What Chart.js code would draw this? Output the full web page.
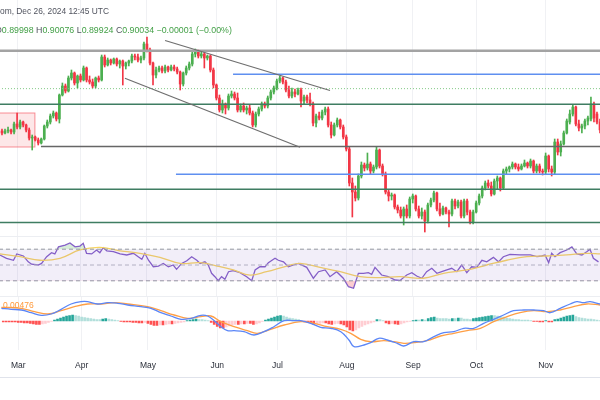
<!DOCTYPE html>
<html>
<head>
<meta charset="utf-8">
<script src="https://cdn.jsdelivr.net/npm/chart.js@4.4.1/dist/chart.umd.min.js"></script>
<style>
  body { margin: 0; background: #fff; width: 600px; height: 400px; overflow: hidden; position: relative; font-family: "Liberation Sans", Arial, sans-serif; }
  canvas { position: absolute; left: 0; }
  #price { top: 0; }
  #rsi { top: 236px; }
  #macd { top: 296px; }
  .hdr { position: absolute; white-space: nowrap; z-index: 5; font-size: 9px; }
  #hdr1 { left: 0; top: 6px; color: #50535e; font-size: 8.4px; }
  #hdr2 { left: -5px; top: 25px; color: #50535e; font-size: 8.8px; }
  #hdr2 .v { color: #43a047; }
  #macdLbl { position: absolute; left: 3px; top: 300px; font-size: 8.5px; color: #ff9a3c; z-index: 5; }
  .sep { position: absolute; left: 0; width: 600px; height: 1px; background: #eceef2; z-index: 4; }
</style>
</head>
<body>
<div id="hdr1" class="hdr">om, Dec 26, 2024 12:45 UTC</div>
<div id="hdr2" class="hdr">O<span class="v">0.89998</span> H<span class="v">0.90076</span> L<span class="v">0.89924</span> C<span class="v">0.90034</span> <span class="v">−0.00001 (−0.00%)</span></div>
<canvas id="price" width="600" height="236"></canvas>
<canvas id="rsi" width="600" height="60"></canvas>
<canvas id="macd" width="600" height="82"></canvas>
<div id="macdLbl">0.00476</div>
<div class="sep" style="top:236px"></div>
<div class="sep" style="top:296px"></div>
<div class="sep" style="top:377px; background:#e0e3eb"></div>
<script>
// daily bars, index 0 = Feb 23 2024 ... 198 = Nov 27 2024
const monthIdx = [5, 26, 48, 71, 91, 114, 136, 157, 180];
const monthNames = ['Mar', 'Apr', 'May', 'Jun', 'Jul', 'Aug', 'Sep', 'Oct', 'Nov'];

const opens = [
  .8834,.8826,.8834,.8838,.8830,.8862,.8850,.8870,.8858,.8838,
  .8806,.8810,.8798,.8786,.8802,.8854,.8870,.8894,.8906,.8882,
  .8978,.9014,.8994,.9046,.9066,.9026,.9054,.9038,.9086,.9038,
  .9030,.9014,.9046,.9038,.9130,.9098,.9118,.9106,.9122,.9102,
  .9114,.9094,.9106,.9114,.9134,.9130,.9118,.9126,.9182,.9158,
  .9106,.9058,.9078,.9086,.9074,.9090,.9078,.9090,.9082,.9070,
  .9022,.9066,.9086,.9102,.9142,.9150,.9134,.9142,.9126,.9134,
  .9078,.9018,.8966,.8918,.8942,.8926,.8974,.8982,.8966,.8918,
  .8934,.8918,.8926,.8906,.8858,.8902,.8922,.8942,.8934,.8966,
  .8990,.9006,.9034,.9046,.9030,.8998,.8974,.8990,.8982,.8998,
  .8954,.8970,.8958,.8942,.8866,.8894,.8886,.8910,.8922,.8858,
  .8818,.8858,.8878,.8850,.8810,.8762,.8626,.8590,.8566,.8654,
  .8698,.8686,.8702,.8674,.8690,.8758,.8694,.8662,.8590,.8574,
  .8578,.8530,.8518,.8494,.8522,.8494,.8562,.8574,.8522,.8494,
  .8510,.8474,.8538,.8558,.8586,.8522,.8502,.8526,.8510,.8502,
  .8554,.8534,.8550,.8494,.8554,.8510,.8470,.8510,.8546,.8574,
  .8606,.8626,.8614,.8582,.8634,.8646,.8606,.8674,.8682,.8690,
  .8702,.8690,.8682,.8694,.8706,.8694,.8714,.8674,.8694,.8674,
  .8670,.8734,.8682,.8670,.8790,.8750,.8782,.8826,.8870,.8902,
  .8930,.8862,.8846,.8854,.8874,.8882,.8942,.8902,.8870
];
const highs = [
  .8842,.8842,.8850,.8842,.8870,.8906,.8878,.8874,.8862,.8846,
  .8818,.8814,.8806,.8806,.8858,.8878,.8902,.8914,.8910,.8982,
  .9026,.9022,.9054,.9078,.9070,.9058,.9062,.9094,.9090,.9054,
  .9042,.9050,.9054,.9138,.9138,.9126,.9122,.9126,.9126,.9118,
  .9118,.9110,.9118,.9142,.9142,.9142,.9134,.9190,.9210,.9166,
  .9110,.9090,.9094,.9094,.9098,.9094,.9098,.9098,.9090,.9074,
  .9070,.9094,.9110,.9150,.9162,.9158,.9154,.9150,.9138,.9138,
  .9086,.9022,.8978,.8958,.8946,.8982,.8994,.8990,.8986,.8942,
  .8946,.8934,.8938,.8914,.8910,.8930,.8950,.8950,.8974,.8998,
  .9014,.9042,.9054,.9050,.9038,.9014,.9006,.9002,.9006,.9006,
  .8978,.8978,.8986,.8950,.8902,.8910,.8918,.8930,.8930,.8870,
  .8866,.8886,.8882,.8858,.8818,.8770,.8646,.8614,.8662,.8710,
  .8706,.8746,.8710,.8698,.8770,.8762,.8702,.8670,.8598,.8586,
  .8582,.8538,.8530,.8530,.8538,.8570,.8582,.8578,.8534,.8526,
  .8518,.8546,.8566,.8594,.8590,.8546,.8534,.8530,.8518,.8562,
  .8562,.8558,.8558,.8562,.8562,.8518,.8518,.8554,.8582,.8614,
  .8634,.8638,.8630,.8642,.8654,.8650,.8682,.8690,.8694,.8710,
  .8706,.8702,.8702,.8718,.8710,.8722,.8718,.8702,.8702,.8682,
  .8746,.8738,.8694,.8802,.8802,.8794,.8834,.8882,.8918,.8938,
  .8934,.8878,.8862,.8882,.8894,.8970,.8950,.8910,.8882
];
const lows = [
  .8818,.8822,.8826,.8822,.8822,.8842,.8842,.8850,.8830,.8798,
  .8758,.8794,.8778,.8782,.8798,.8846,.8862,.8886,.8874,.8866,
  .8974,.8986,.8990,.9038,.9018,.9006,.9030,.9034,.9030,.9022,
  .9006,.9006,.9030,.9034,.9090,.9094,.9098,.9102,.9094,.9086,
  .9018,.9082,.9094,.9106,.9118,.9110,.9106,.9118,.9150,.9098,
  .9018,.9046,.9070,.9066,.9066,.9070,.9074,.9074,.9062,.8998,
  .9014,.9058,.9078,.9094,.9130,.9126,.9126,.9086,.9118,.9070,
  .9006,.8958,.8910,.8906,.8902,.8918,.8966,.8958,.8910,.8910,
  .8910,.8902,.8898,.8850,.8850,.8894,.8914,.8926,.8926,.8958,
  .8982,.8998,.9026,.9022,.8990,.8966,.8966,.8970,.8978,.8930,
  .8942,.8946,.8934,.8854,.8850,.8878,.8878,.8898,.8850,.8806,
  .8814,.8850,.8842,.8802,.8754,.8614,.8490,.8554,.8558,.8646,
  .8674,.8678,.8662,.8666,.8682,.8686,.8654,.8582,.8554,.8558,
  .8522,.8506,.8486,.8458,.8486,.8486,.8546,.8514,.8486,.8482,
  .8430,.8466,.8530,.8550,.8514,.8494,.8498,.8502,.8450,.8494,
  .8522,.8526,.8486,.8486,.8498,.8462,.8462,.8506,.8538,.8566,
  .8598,.8606,.8574,.8578,.8602,.8594,.8602,.8662,.8670,.8682,
  .8682,.8674,.8678,.8690,.8686,.8686,.8666,.8666,.8666,.8658,
  .8662,.8670,.8654,.8662,.8738,.8734,.8778,.8822,.8862,.8894,
  .8854,.8834,.8826,.8842,.8858,.8874,.8870,.8862,.8826
];
const closes = [
  .8826,.8834,.8838,.8830,.8862,.8850,.8870,.8858,.8838,.8806,
  .8810,.8798,.8786,.8802,.8854,.8870,.8894,.8906,.8882,.8978,
  .9014,.8994,.9046,.9066,.9026,.9054,.9038,.9086,.9038,.9030,
  .9014,.9046,.9038,.9130,.9098,.9118,.9106,.9122,.9102,.9114,
  .9094,.9106,.9114,.9134,.9130,.9118,.9126,.9182,.9158,.9106,
  .9058,.9078,.9086,.9074,.9090,.9078,.9090,.9082,.9070,.9022,
  .9066,.9086,.9102,.9142,.9150,.9134,.9142,.9126,.9134,.9078,
  .9018,.8966,.8918,.8942,.8926,.8974,.8982,.8966,.8918,.8934,
  .8918,.8926,.8906,.8858,.8902,.8922,.8942,.8934,.8966,.8990,
  .9006,.9034,.9046,.9030,.8998,.8974,.8990,.8982,.8998,.8954,
  .8970,.8958,.8942,.8866,.8894,.8886,.8910,.8922,.8858,.8818,
  .8858,.8878,.8850,.8810,.8762,.8626,.8590,.8566,.8654,.8698,
  .8686,.8702,.8674,.8690,.8758,.8694,.8662,.8590,.8574,.8578,
  .8530,.8518,.8494,.8522,.8494,.8562,.8574,.8522,.8494,.8510,
  .8474,.8538,.8558,.8586,.8522,.8502,.8526,.8510,.8502,.8554,
  .8534,.8550,.8494,.8554,.8510,.8470,.8510,.8546,.8574,.8606,
  .8626,.8614,.8582,.8634,.8646,.8606,.8674,.8682,.8690,.8702,
  .8690,.8682,.8694,.8706,.8694,.8714,.8674,.8694,.8674,.8670,
  .8734,.8682,.8670,.8790,.8750,.8782,.8826,.8874,.8902,.8930,
  .8862,.8846,.8854,.8874,.8886,.8942,.8886,.8870,.8838
];

// drawings on the price pane
const levelPrices = [0.9155, 0.9061, 0.8941, 0.8772, 0.8661, 0.8601, 0.8468];
const levelFrom = [-1, 76.5, -1, 12.9, 57.6, -1, -1];
const lastClose = 0.90034;
const channelUpper = [[54.0, 0.9196], [108.6, 0.8996]];
const channelLower = [[40.7, 0.9045], [98.7, 0.8769]];
const boxX = [-2, 10.9];
const boxY = [0.8770, 0.8906];

// RSI 14 and its moving average
const rsiX = [-0.7,1.5,3.8,4.9,7.1,8.7,9.8,12.0,13.1,14.8,
  16.4,17.5,18.7,20.9,22.5,24.2,25.8,26.9,28.0,29.7,
  31.3,32.4,33.5,34.7,36.9,39.1,41.3,43.5,45.1,46.3,
  47.3,48.5,50.1,51.8,53.4,55.1,56.7,57.8,59.5,61.2,
  62.8,64.5,65.6,67.2,68.3,69.4,70.5,71.6,72.7,73.8,
  75.0,76.6,78.8,81.0,82.7,83.8,85.4,87.1,88.2,90.4,
  91.5,93.2,94.8,96.5,98.1,100.9,103.1,104.8,107.0,108.6,
  110.8,113.0,114.7,116.4,118.0,119.7,121.3,122.4,123.5,125.7,
  127.9,130.2,131.8,134.0,135.7,137.3,139.0,140.6,142.3,144.0,
  145.6,147.3,148.9,150.6,152.2,153.9,155.5,157.2,158.9,160.5,
  162.7,164.4,166.0,168.2,171.5,174.9,177.1,178.7,179.8,181.0,
  182.0,183.1,184.8,187.0,188.7,190.3,192.0,193.6,194.7,195.8,197.5];
const rsiVals = [62.7,58.5,56,64,61.4,54,51,50,52,60.5,
  65.6,64,73,75.3,78,73,74,77.5,64.8,64,
  69,65.6,72,68,66.8,64,62.7,64.8,60.5,57.2,
  64.8,56,47.8,48.7,52,47.8,50,44.5,52,55.4,
  60.5,56,52,54,50,39.5,35.2,30.1,35.2,32,
  41.5,42.8,40.3,35.2,30.1,43.7,47.8,47.8,53,58.5,
  56,54,47.8,50,52,47,33.2,41.5,43.7,35.2,
  41.5,33.2,22.5,20.5,39.5,39.5,40.3,38.2,47,37.3,
  35.2,31,30.5,37.3,40.3,36.1,33.2,41.5,45.8,39.5,
  41.5,43.7,45.8,41.5,50,40.3,47.8,47,56,54,
  59.7,54,60.5,63.5,62.7,62.7,60.5,61.4,62.7,53,
  64.8,60.5,65.6,69,73,64,62.7,66.8,70,58.5,54];
const rsiMaX = [-0.7,6.0,12.6,19.2,25.8,32.4,39.1,45.7,52.3,59.0,65.6,72.2,76.6,82.1,87.6,94.3,
  98.7,105.3,112.0,118.6,125.2,131.8,139.5,146.2,153.9,160.5,167.1,173.8,180.4,187.0,193.6,198.0];
const rsiMaVals = [64,60.5,56,58.5,69,72.4,68,64.8,59.7,52,53,47.8,43.7,37.3,41.5,48.7,
  52,47,41.5,35.2,34,35.2,33.2,39.5,43.7,50,56,60.5,61.4,62.7,64.8,64];

// MACD 12 26 9
const macdX = [-0.7,2.6,6.0,9.3,12.6,15.9,19.2,22.5,25.8,28.0,31.3,34.7,38.0,41.3,45.7,
  49.0,52.3,55.6,59.0,62.3,65.6,67.8,70.0,72.2,74.4,76.6,79.9,83.2,86.5,89.8,
  93.2,96.5,98.7,102.0,105.3,108.6,112.0,114.7,116.4,119.7,121.9,124.6,127.4,130.7,132.9,
  136.2,139.5,142.9,146.2,149.5,152.8,156.1,159.4,162.7,166.0,169.3,172.7,176.0,179.3,181.5,
  184.8,188.1,190.3,192.5,194.7,198.0];
const macdVals = [0.00381,0.00351,0.0033,0.00249,0.00171,0.0021,0.00351,0.0051,0.00579,0.00579,
  0.0051,0.00549,0.00531,0.0048,0.00429,0.00381,0.00249,0.0015,0.00051,0.00081,
  0.00171,0.0015,0.00009,-0.00171,-0.00291,-0.00291,-0.00321,-0.0042,-0.00321,-0.00171,
  0.00009,0.00009,0.00009,-0.00069,-0.00189,-0.00219,-0.00321,-0.0057,-0.00771,-0.0072,
  -0.00651,-0.00519,-0.0057,-0.00669,-0.0075,-0.00621,-0.00621,-0.00471,-0.00351,-0.00321,
  -0.00219,-0.00219,-0.00069,0.00051,0.0018,0.00309,0.0033,0.0033,0.00309,0.00249,
  0.00381,0.0051,0.00579,0.00549,0.00579,0.0051];
const signalX = [-0.7,6.0,10.4,14.8,19.2,23.6,28.0,32.4,36.9,41.3,47.9,52.3,56.7,61.2,65.6,
  68.9,72.2,76.6,81.0,84.3,88.7,93.2,98.7,103.1,107.5,112.0,115.3,118.6,121.9,126.3,
  129.6,132.9,136.2,140.6,145.1,149.5,153.9,158.3,162.7,167.1,171.5,176.0,180.4,184.8,189.2,193.6,198.0];
const signalVals = [0.00411,0.00381,0.00279,0.0021,0.00309,0.00429,0.0051,0.0051,0.00549,0.0051,
  0.00429,0.00309,0.0018,0.00081,0.00129,0.0015,-0.00021,-0.00171,-0.00291,-0.00369,
  -0.00249,-0.0012,-0.00021,-0.00069,-0.00171,-0.00249,-0.00369,-0.00549,-0.00621,-0.00591,
  -0.00621,-0.00669,-0.00651,-0.00591,-0.0045,-0.00369,-0.00291,-0.00219,-0.00021,0.00129,
  0.00249,0.00309,0.00279,0.0033,0.00429,0.0051,0.0048];
const macdHist = [
  -0.0003,-0.0003,-0.0003,-0.0003,-0.0003,-0.00045,-0.00045,-0.0006,-0.0006,-0.00075,
  -0.0009,-0.00105,-0.00105,-0.0009,-0.00075,-0.00045,-0.00015,0.0003,0.0006,0.0009,
  0.0012,0.0015,0.00165,0.0018,0.00165,0.0015,0.0012,0.00105,0.0009,0.00075,
  0.0006,0.00045,0.00045,0.0006,0.00075,0.0006,0.00045,0.0003,0.00015,-0.00015,
  -0.0003,-0.0003,-0.0003,-0.00045,-0.00045,-0.0006,-0.0006,-0.00045,-0.00075,-0.00105,
  -0.00135,-0.00135,-0.0012,-0.0012,-0.00105,-0.0009,-0.0009,-0.00075,-0.0006,-0.00045,
  -0.0003,0.00015,0.0003,0.00045,0.0006,0.00045,0.00045,0.0003,0.00015,-0.00045,
  -0.00105,-0.00165,-0.0021,-0.0021,-0.0018,-0.0015,-0.0012,-0.00105,-0.00105,-0.0009,
  -0.0009,-0.00075,-0.00075,-0.00105,-0.0009,-0.0006,-0.00015,0.0003,0.0006,0.0009,
  0.0012,0.0015,0.00165,0.0015,0.0012,0.0009,0.00075,0.0006,0.00045,-0.00015,
  -0.0003,-0.00045,-0.0006,-0.00105,-0.0009,-0.00075,-0.0006,-0.0006,-0.0009,-0.00105,
  -0.0009,-0.00075,-0.0009,-0.0012,-0.0018,-0.0027,-0.003,-0.0027,-0.0021,-0.00165,
  -0.0012,-0.0009,-0.0006,-0.0003,0.00045,0.00045,0.00015,-0.0006,-0.0009,-0.00075,
  -0.0009,-0.00105,-0.0009,-0.0006,-0.0003,-0.00015,0.00015,0.0003,0.0003,0.00045,
  0.0003,0.00075,0.00105,0.0012,0.0009,0.00075,0.00075,0.00075,0.0006,0.00075,
  0.00075,0.0009,0.0009,0.0006,0.0006,0.00045,0.00075,0.0009,0.00105,0.0012,
  0.00135,0.0015,0.00165,0.00165,0.0015,0.00135,0.0012,0.0009,0.00075,0.0006,
  0.00045,0.00045,0.0003,0.0003,0.0003,0.00015,-0.00015,-0.00015,-0.0003,-0.0003,
  0.00015,-0.0003,-0.0003,0.00045,0.0006,0.0009,0.0012,0.0015,0.00165,0.0018,
  0.00135,0.00105,0.0009,0.00075,0.0006,0.0006,0.00045,0.0003,0.00015
];

const UP = '#4caf50', DOWN = '#f23645';
const barIdx = opens.map((_, i) => i);
const pts = (xs, ys) => xs.map((x, k) => ({ x: x, y: ys[k] }));
const seg = (a, b) => [{ x: a[0], y: a[1] }, { x: b[0], y: b[1] }];

Chart.defaults.font.family = '"Liberation Sans", Arial, sans-serif';
Chart.defaults.animation = false;
Chart.defaults.events = [];
Chart.defaults.plugins.legend.display = false;
Chart.defaults.plugins.tooltip.enabled = false;

function xAxis(showLabels) {
  const s = {
    type: 'linear', min: -0.66, max: 198.0, offset: false,
    afterBuildTicks: (axis) => { axis.ticks = monthIdx.map(v => ({ value: v })); },
    ticks: { display: showLabels, autoSkip: false, maxRotation: 0, color: '#2a2e39', font: { size: 8.5 }, padding: 11,
             callback: (v, i) => monthNames[i] },
    grid: { color: '#f0f1f4', drawTicks: false, offset: false },
    border: { display: false }
  };
  if (showLabels) s.afterFit = (scale) => { scale.height = 28; };
  return s;
}
function yAxis(min, max) {
  return { min: min, max: max, display: true, ticks: { display: false },
           grid: { display: false }, border: { display: false },
           afterFit: (scale) => { scale.width = 0; } };
}

// price pane
const levelLook = [
  { c: '#a3a3a3', w: 2.5 }, { c: '#5f8ff0', w: 1.3 }, { c: '#3f7d62', w: 1.4 }, { c: '#666666', w: 1.4 },
  { c: '#5f8ff0', w: 1.3 }, { c: '#3f7d62', w: 1.4 }, { c: '#3f7d62', w: 1.4 }
];
const priceSets = [];
levelPrices.forEach((p, k) => {
  priceSets.push({ type: 'line', data: seg([levelFrom[k], p], [200, p]), borderColor: levelLook[k].c,
                   borderWidth: levelLook[k].w, pointRadius: 0, order: 1 });
});
priceSets.push({ type: 'line', data: seg([-1, lastClose], [200, lastClose]), borderColor: '#7fc783',
                 borderWidth: 1, borderDash: [1, 2], pointRadius: 0, order: 1 });
priceSets.push({ type: 'line', data: seg(channelUpper[0], channelUpper[1]), borderColor: '#6f6f6f', borderWidth: 1.3, pointRadius: 0, order: 0 });
priceSets.push({ type: 'line', data: seg(channelLower[0], channelLower[1]), borderColor: '#6f6f6f', borderWidth: 1.3, pointRadius: 0, order: 0 });
const candleColor = (ctx) => closes[ctx.dataIndex] >= opens[ctx.dataIndex] ? UP : DOWN;
priceSets.push({ type: 'bar', data: barIdx.map(i => ({ x: i, y: [lows[i], highs[i]] })), backgroundColor: candleColor,
                 barThickness: 1, grouped: false, order: 3 });
priceSets.push({ type: 'bar', data: barIdx.map(i => ({ x: i, y: [opens[i], closes[i]] })), backgroundColor: candleColor,
                 barThickness: 2, grouped: false, order: 2 });

const boxPlugin = {
  id: 'box',
  beforeDatasetsDraw(chart) {
    const { ctx, scales: { x, y } } = chart;
    const x0 = x.getPixelForValue(boxX[0]), x1 = x.getPixelForValue(boxX[1]);
    const y0 = y.getPixelForValue(boxY[1]), y1 = y.getPixelForValue(boxY[0]);
    ctx.save();
    ctx.fillStyle = 'rgba(242,54,69,0.12)';
    ctx.fillRect(x0, y0, x1 - x0, y1 - y0);
    ctx.strokeStyle = 'rgba(242,54,69,0.55)';
    ctx.lineWidth = 1;
    ctx.strokeRect(x0, y0, x1 - x0, y1 - y0);
    ctx.restore();
  }
};

new Chart(document.getElementById('price'), {
  type: 'bar',
  data: { datasets: priceSets },
  options: {
    responsive: false, layout: { padding: 0 },
    scales: { x: xAxis(false), y: yAxis(0.8414, 0.9358) }
  },
  plugins: [boxPlugin]
});

// RSI pane
new Chart(document.getElementById('rsi'), {
  type: 'line',
  data: { datasets: [
    { data: seg([-1, 70], [200, 70]), borderColor: '#9598a1', borderWidth: 1, borderDash: [4, 3], pointRadius: 0,
      fill: 1, backgroundColor: 'rgba(126,87,194,0.10)' },
    { data: seg([-1, 30], [200, 30]), borderColor: '#9598a1', borderWidth: 1, borderDash: [4, 3], pointRadius: 0 },
    { data: seg([-1, 50], [200, 50]), borderColor: '#b8bac2', borderWidth: 1, borderDash: [4, 3], pointRadius: 0 },
    { data: pts(rsiMaX, rsiMaVals), borderColor: '#f6d462', borderWidth: 1.3, pointRadius: 0, tension: 0.4 },
    { data: pts(rsiX, rsiVals), borderColor: '#8560c8', borderWidth: 1.3, pointRadius: 0, tension: 0,
      fill: { target: { value: 70 }, above: 'rgba(76,175,80,0.22)', below: 'rgba(0,0,0,0)' } },
    { data: pts(rsiX, rsiVals), borderColor: 'rgba(0,0,0,0)', borderWidth: 0, pointRadius: 0, tension: 0,
      fill: { target: { value: 30 }, above: 'rgba(0,0,0,0)', below: 'rgba(242,54,69,0.25)' } }
  ] },
  options: {
    responsive: false, layout: { padding: 0 },
    scales: { x: xAxis(false), y: yAxis(10.76, 86.71) }
  }
});

// MACD pane
const histColor = (ctx) => {
  const i = ctx.dataIndex, v = macdHist[i], prev = i > 0 ? macdHist[i - 1] : v;
  if (v >= 0) return prev < v ? '#26a69a' : '#b2dfdb';
  return prev < v ? '#ffcdd2' : '#ff5252';
};
new Chart(document.getElementById('macd'), {
  type: 'bar',
  data: { datasets: [
    { type: 'line', data: pts(macdX, macdVals), borderColor: '#5b86f7', borderWidth: 1.3, pointRadius: 0, tension: 0.4, order: 0 },
    { type: 'line', data: pts(signalX, signalVals), borderColor: '#ff9f45', borderWidth: 1.3, pointRadius: 0, tension: 0.4, order: 0 },
    { type: 'bar', data: barIdx.map(i => ({ x: i, y: macdHist[i] })), backgroundColor: histColor, barThickness: 2, order: 1 }
  ] },
  options: {
    responsive: false, layout: { padding: 0 },
    scales: { x: xAxis(true), y: yAxis(-0.0087, 0.0075) }
  }
});
</script>
</body>
</html>
